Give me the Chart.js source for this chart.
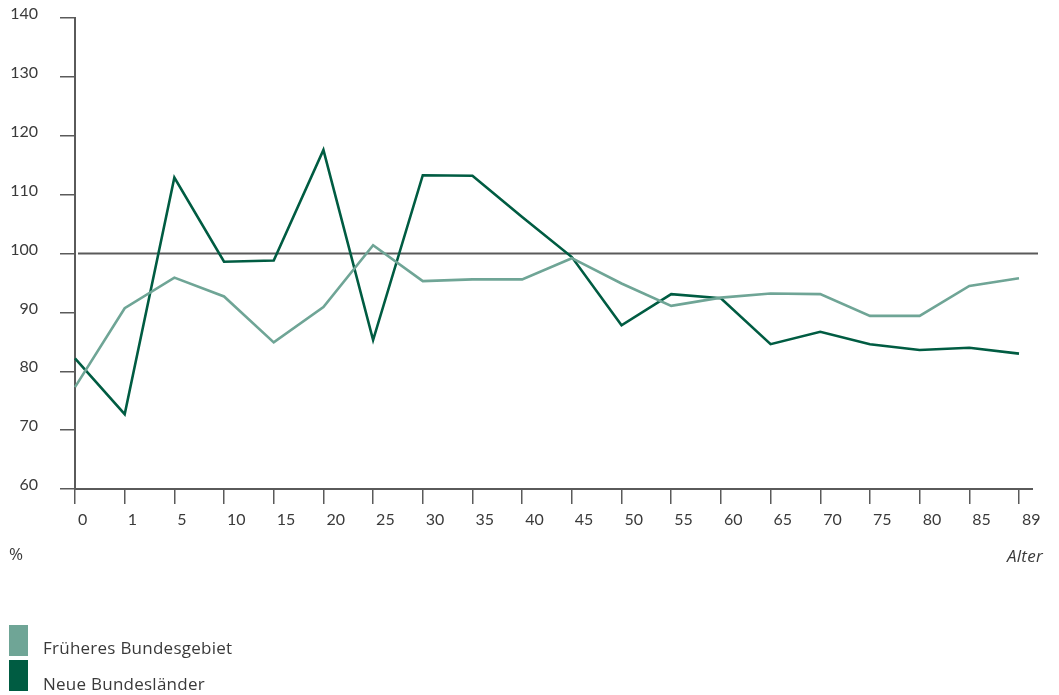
<!DOCTYPE html>
<html>
<head>
<meta charset="utf-8">
<script src="https://cdn.jsdelivr.net/npm/chart.js@4"></script>
<style>
  html, body { margin: 0; padding: 0; background: #fff; }
  #wrap { position: relative; width: 1059px; height: 695px; overflow: hidden; }
  canvas { position: absolute; left: 0; top: 0; }
  .txt { position: absolute; font-family: "Open Sans", Lato, sans-serif; font-size: 17px; letter-spacing: 0.25px; color: #3a3a3a; white-space: nowrap; }
  .sw { position: absolute; width: 19px; height: 31px; }
</style>
</head>
<body>
<div id="wrap">
  <canvas id="c" width="1059" height="695"></canvas>
  <div class="txt" style="left:9px; top:542px;">%</div>
  <div class="txt" style="left:1007px; top:544px; font-style:italic;">Alter</div>
  <div class="sw" style="left:9px; top:625px; background:#6fa596;"></div>
  <div class="sw" style="left:9px; top:660px; background:#005c42;"></div>
  <div class="txt" style="left:43px; top:636px;">Früheres Bundesgebiet</div>
  <div class="txt" style="left:43px; top:672px;">Neue Bundesländer</div>
</div>
<script>
const categories = ['0','1','5','10','15','20','25','30','35','40','45','50','55','60','65','70','75','80','85','89'];
const frueheresBundesgebiet = [77.3, 90.7, 95.9, 92.7, 84.9, 90.9, 101.4, 95.3, 95.6, 95.6, 99.2, 94.9, 91.1, 92.5, 93.2, 93.1, 89.4, 89.4, 94.5, 95.8];
const neueBundeslaender = [82.2, 72.7, 112.9, 98.6, 98.8, 117.6, 85.3, 113.3, 113.2, 106.2, 99.4, 87.8, 93.1, 92.4, 84.6, 86.7, 84.6, 83.6, 84.0, 83.0];
const referenceValue = 100;
const yTicks = [60, 70, 80, 90, 100, 110, 120, 130, 140];

const axisColor = '#5a5a5a';
const textColor = '#3a3a3a';

const extras = {
  id: 'extras',
  beforeDatasetsDraw(chart) {
    const ctx = chart.ctx;
    const y = chart.scales.y;
    const ca = chart.chartArea;
    ctx.save();
    ctx.strokeStyle = axisColor;
    ctx.lineWidth = 2;
    const py = y.getPixelForValue(referenceValue);
    ctx.beginPath();
    ctx.moveTo(ca.left + 3, py);
    ctx.lineTo(ca.right + 19, py);
    ctx.stroke();
    const by = y.getPixelForValue(yTicks[0]);
    ctx.beginPath();
    ctx.moveTo(ca.right, by);
    ctx.lineTo(ca.right + 14, by);
    ctx.stroke();
    ctx.restore();
  }
};

new Chart(document.getElementById('c'), {
  type: 'line',
  data: {
    labels: categories,
    datasets: [
      { label: 'Früheres Bundesgebiet', data: frueheresBundesgebiet, borderColor: '#6fa596', borderWidth: 2.6, pointRadius: 0, tension: 0, fill: false },
      { label: 'Neue Bundesländer', data: neueBundeslaender, borderColor: '#005c42', borderWidth: 2.6, pointRadius: 0, tension: 0, fill: false }
    ]
  },
  options: {
    responsive: false,
    animation: false,
    events: [],
    layout: { padding: { top: 18, right: 40, left: 0, bottom: 0 } },
    plugins: { legend: { display: false }, tooltip: { enabled: false } },
    scales: {
      x: {
        type: 'category',
        offset: false,
        grid: { display: true, drawOnChartArea: false, drawTicks: true, tickLength: 15, color: axisColor, lineWidth: 1.5 },
        border: { display: true, color: axisColor, width: 2 },
        ticks: { color: textColor, font: { family: 'Lato, "Open Sans", sans-serif', size: 16 }, align: 'start', labelOffset: 3, padding: 6, maxRotation: 0, autoSkip: false },
        afterFit(scale) { scale.height = 206; }
      },
      y: {
        min: 60, max: 140,
        afterBuildTicks(scale) { scale.ticks = yTicks.map(v => ({ value: v })); },
        grid: { display: true, drawOnChartArea: false, drawTicks: true, tickLength: 15, color: axisColor, lineWidth: 1.5 },
        border: { display: true, color: axisColor, width: 2 },
        ticks: { color: textColor, font: { family: 'Lato, "Open Sans", sans-serif', size: 16 }, padding: 22, labelOffset: -4 },
        afterFit(scale) { scale.width = 75; scale.paddingTop = 0; scale.paddingBottom = 0; }
      }
    }
  },
  plugins: [extras]
});
</script>
</body>
</html>
